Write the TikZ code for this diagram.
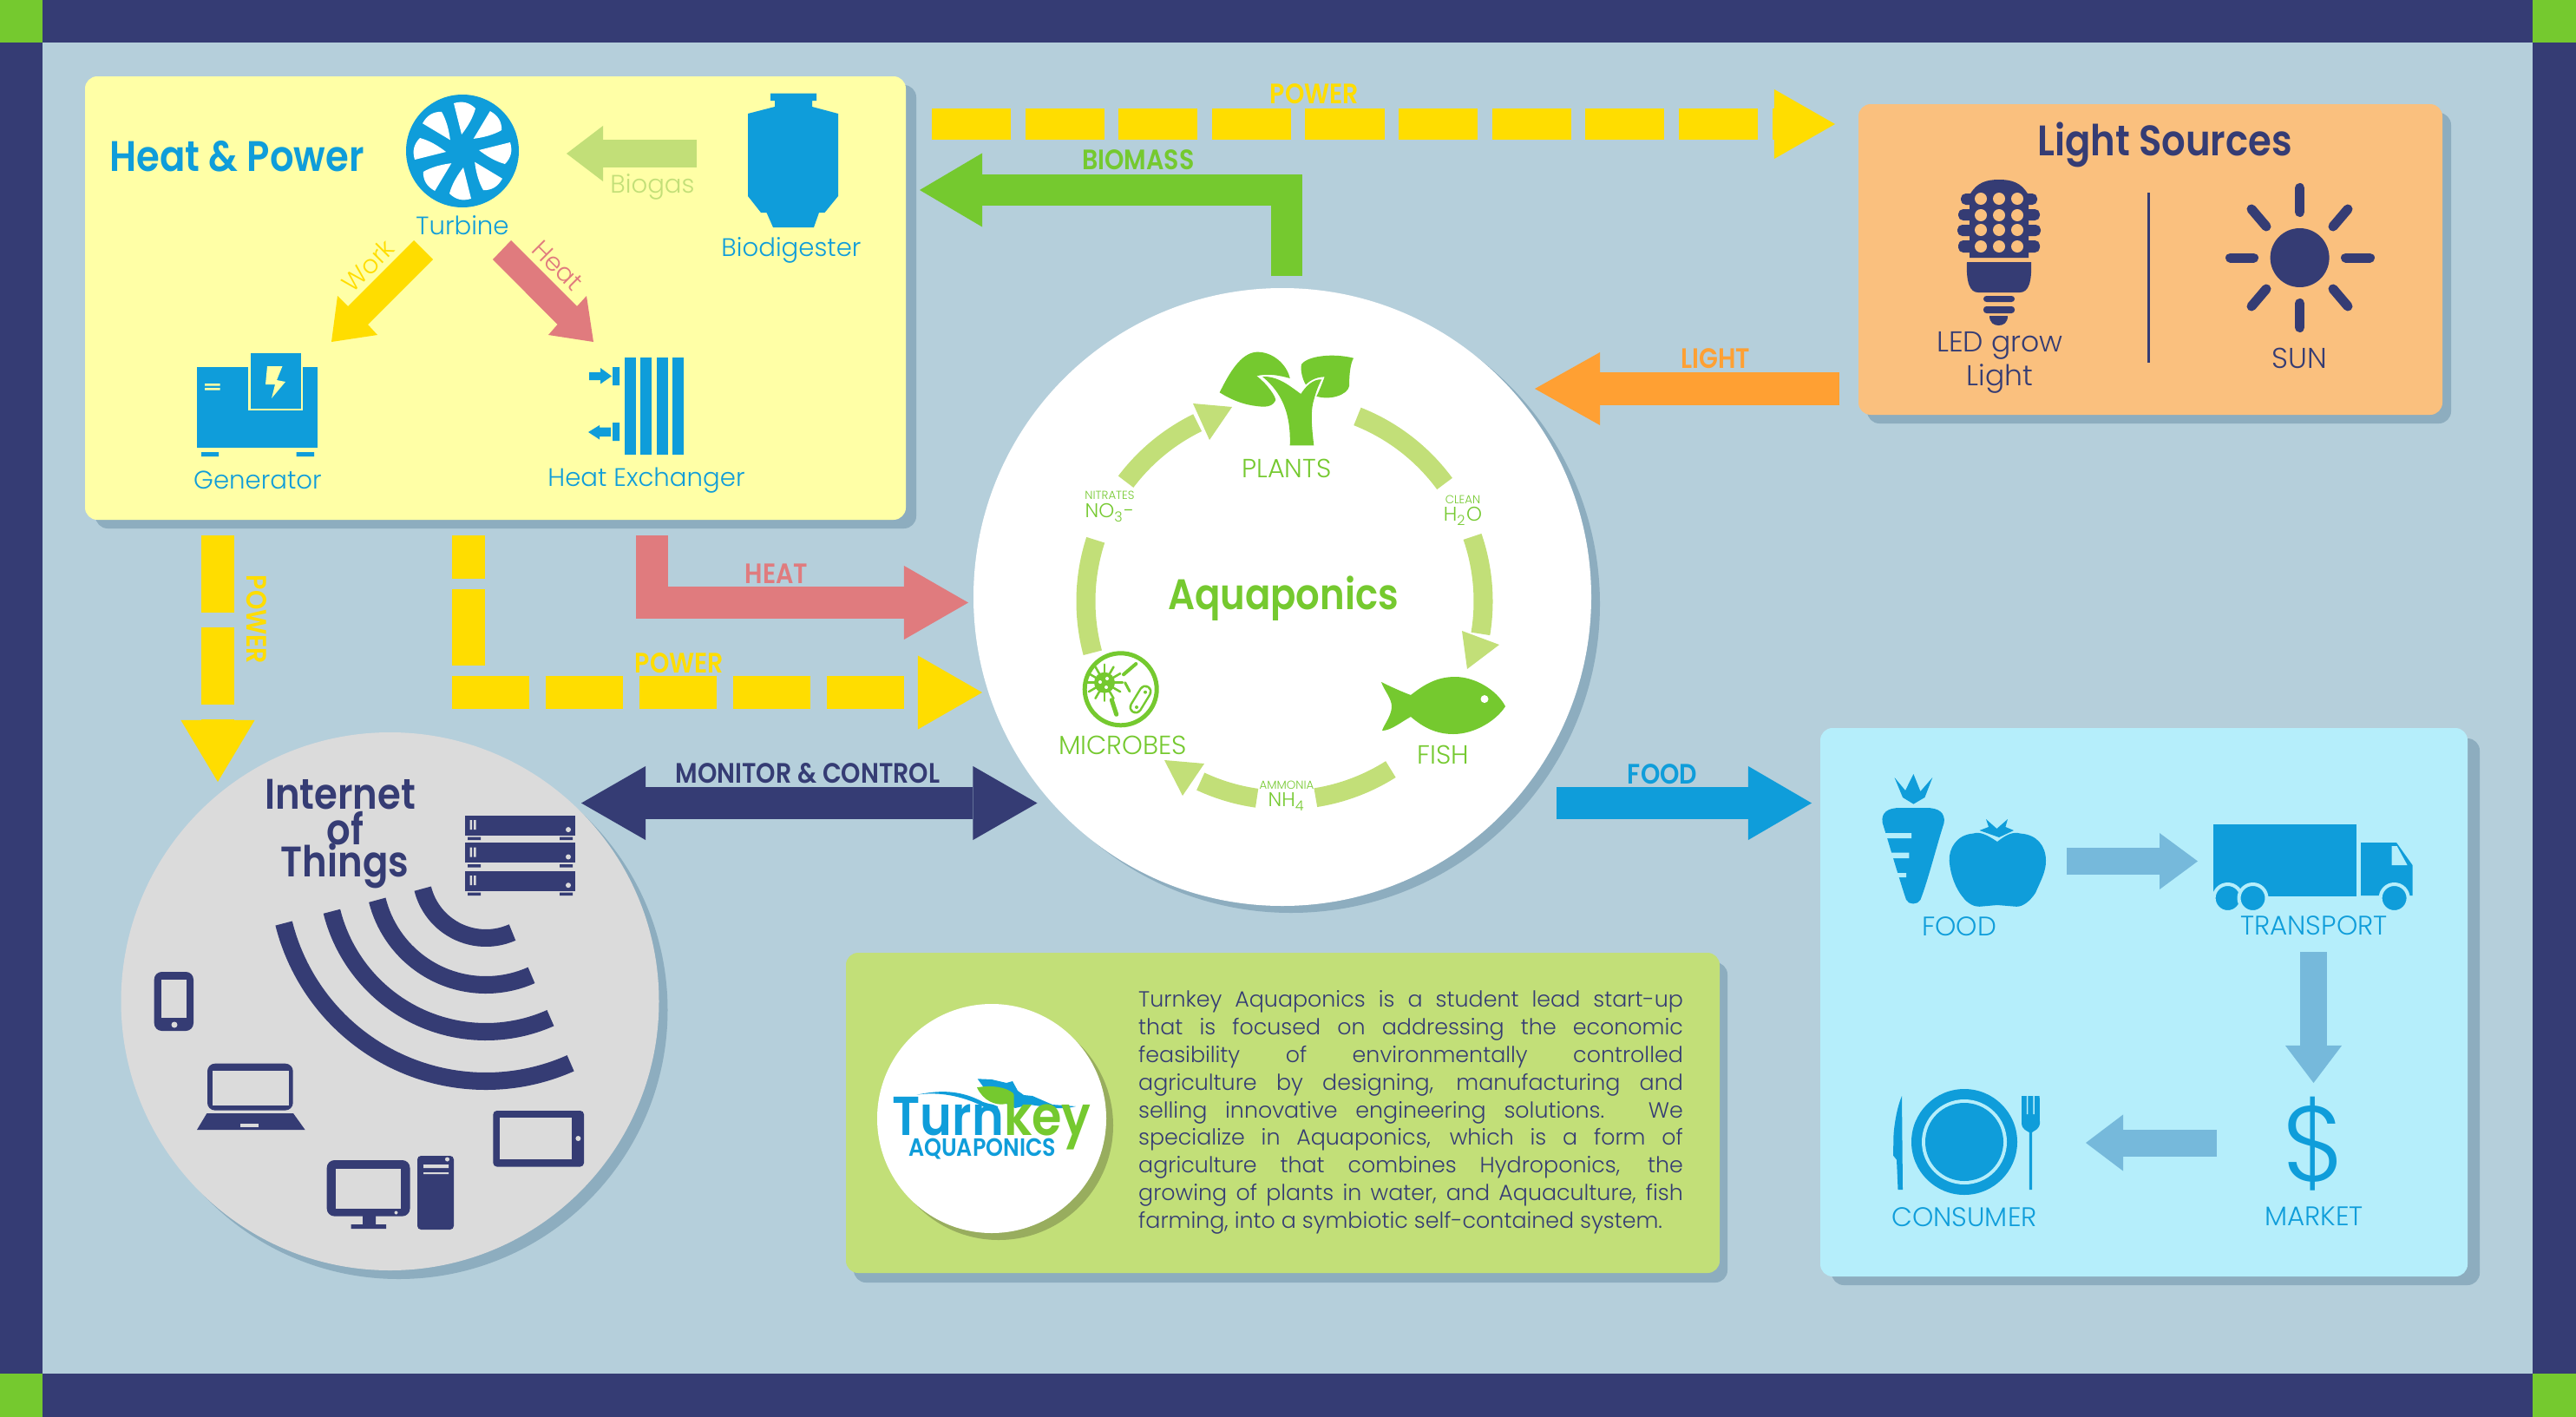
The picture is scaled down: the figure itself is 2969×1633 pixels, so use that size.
\documentclass[tikz,border=0pt]{standalone}
\usepackage{fontspec}
\setmainfont{Poppins}[UprightFont=* Light,BoldFont=* SemiBold,BoldFeatures={FakeStretch=.88}]
\usetikzlibrary{arrows.meta,calc}
\definecolor{navy}{HTML}{353C74}
\definecolor{backblue}{HTML}{B5CFDB}
\definecolor{shadowblue}{HTML}{8DADBF}
\definecolor{leafgreen}{HTML}{75C92F}
\definecolor{palegreen}{HTML}{C2DF78}
\definecolor{sunyellow}{HTML}{FFDD00}
\definecolor{heatred}{HTML}{E07B7E}
\definecolor{lightorange}{HTML}{FFA033}
\definecolor{foodblue}{HTML}{0F9DDA}
\definecolor{softblue}{HTML}{76B9DB}
\definecolor{heatpanel}{HTML}{FFFFA6}
\definecolor{lightpanel}{HTML}{FAC07E}
\definecolor{foodpanel}{HTML}{B5EEFB}
\definecolor{logoshadow}{HTML}{98AD5E}
\def\pxu{0.2845pt}
\tikzset{
    blockarrow/.style n args={3}{
        line width=#1*\pxu,
        -{Triangle[length=#2*\pxu,width=#3*\pxu,line width=0pt]}
    },
    panel/.style={rounded corners=4pt},
    bigtitle/.style={font=\fontsize{14}{15}\selectfont\bfseries},
    iconlabel/.style={font=\fontsize{8.3}{9}\selectfont,inner sep=0pt},
    lightlabel/.style={font=\fontsize{9.4}{10}\selectfont,navy,inner sep=0pt},
    foodlabel/.style={font=\fontsize{8.8}{9}\selectfont,foodblue,inner sep=0pt},
    cyclelabel/.style={font=\fontsize{8.6}{9}\selectfont,leafgreen,inner sep=0pt},
    tinylabel/.style={font=\fontsize{3.8}{4.5}\selectfont,leafgreen,inner sep=0pt},
    chemlabel/.style={font=\fontsize{6.5}{7}\selectfont,leafgreen,inner sep=0pt},
    arrowlabel/.style={font=\fontsize{9.2}{10}\selectfont\bfseries,inner sep=0pt}
}
\begin{document}
\begin{tikzpicture}[x=0.01cm,y=0.01cm,yscale=-1]
    \useasboundingbox (0,0) rectangle (2969,1633);
    % frame
    \fill[leafgreen] (0,0) rectangle (2969,1633);
    \fill[navy] (49,0) rectangle (2919,49);
    \fill[navy] (49,1583) rectangle (2919,1633);
    \fill[navy] (0,49) rectangle (49,1583);
    \fill[navy] (2919,49) rectangle (2969,1583);
    \fill[backblue] (49,49) rectangle (2919,1583);

    % panels
    \fill[panel,shadowblue] (110,98) rectangle (1056,609);
    \fill[panel,heatpanel] (98,88) rectangle (1044,599);
    \fill[panel,shadowblue] (2152,130) rectangle (2825,488);
    \fill[panel,lightpanel] (2142,120) rectangle (2815,478);
    \fill[panel,shadowblue] (2111,851) rectangle (2858,1481);
    \fill[panel,foodpanel] (2098,839) rectangle (2844,1471);
    \fill[panel,shadowblue] (984,1109) rectangle (1991,1478);
    \fill[panel,palegreen] (975,1098) rectangle (1982,1467);
    \fill[shadowblue] (1488,696) circle[radius=356];
    \fill[white] (1478,688) circle[radius=356];
    \fill[shadowblue] (459.5,1164) circle[radius=310];
    \fill[black!14] (449.5,1154) circle[radius=310];

    % power and material flows
    \coordinate (Pw1) at (1074,143);
    \coordinate (Pw2) at (2115,143);
    \coordinate (Bm1) at (1483,318);
    \coordinate (Bm2) at (1483,219);
    \coordinate (Bm3) at (1060,219);
    \coordinate (Lt1) at (2120,448);
    \coordinate (Lt2) at (1769,448);
    \coordinate (Pw3) at (251,617);
    \coordinate (Pw4) at (251,901);
    \coordinate (Pw5) at (540,617);
    \coordinate (Pw6) at (540,767);
    \coordinate (Pw7) at (521,798);
    \coordinate (Pw8) at (1132,798);
    \coordinate (Ht1) at (751.5,617);
    \coordinate (Ht2) at (751.5,694.5);
    \coordinate (Ht3) at (1116,694.5);
    \coordinate (Mc1) at (670,925.5);
    \coordinate (Mc2) at (1195.5,925.5);
    \coordinate (Fd1) at (1794,925.5);
    \coordinate (Fd2) at (2088,925.5);
    \draw[blockarrow={36}{70}{80},sunyellow,dash pattern=on 25.9pt off 4.7pt] (Pw1) -- (Pw2);
    \draw[blockarrow={36}{72}{85},leafgreen] (Bm1) -- (Bm2) -- (Bm3);
    \draw[blockarrow={37}{75}{84},lightorange] (Lt1) -- (Lt2);
    \draw[blockarrow={37.5}{71}{85},sunyellow,dash pattern=on 25.3pt off 4.84pt] (Pw3) -- (Pw4);
    \draw[line width=37.5*\pxu,sunyellow,dash pattern=on 14.2pt off 3.4pt on 25pt off 60pt] (Pw5) -- (Pw6);
    \draw[blockarrow={37.5}{74}{85},sunyellow,dash pattern=on 25.3pt off 5.4pt] (Pw7) -- (Pw8);
    \draw[blockarrow={37.5}{74}{85},heatred] (Ht1) -- (Ht2) -- (Ht3);
    \draw[line width=37.5*\pxu,navy,{Triangle[length=74*\pxu,width=85*\pxu,line width=0pt]}-{Triangle[length=74*\pxu,width=85*\pxu,line width=0pt]}] (Mc1) -- (Mc2);
    \draw[blockarrow={37.5}{73}{85},foodblue] (Fd1) -- (Fd2);
    \node[arrowlabel,sunyellow] (pwlabela) at (1515,108) {POWER};
    \node[arrowlabel,leafgreen] (bmlabel) at (1312,184) {BIOMASS};
    \node[arrowlabel,lightorange] (ltlabel) at (1977,413) {LIGHT};
    \node[arrowlabel,sunyellow,rotate=-90] (pwlabelb) at (296,714) {POWER};
    \node[arrowlabel,sunyellow] (pwlabelc) at (783,764) {POWER};
    \node[arrowlabel,heatred] (htlabel) at (895,661) {HEAT};
    \node[arrowlabel,navy] (mclabel) at (931,891) {MONITOR \& CONTROL};
    \node[arrowlabel,foodblue] (fdlabel) at (1916,892) {FOOD};

    % heat and power panel
    \node[bigtitle,foodblue,inner sep=0pt] (hptitle) at (273,180) {Heat \& Power};
    \fill[foodblue] (533,174) circle[radius=65];
    \foreach \a in {0,45,...,315}{
        \begin{scope}[shift={(533,174)},rotate=\a]
            \fill[white] (-1,-19) -- (-10,-55) .. controls (0,-58) and (8,-56) .. (15,-49)
                .. controls (12,-38) and (6,-28) .. cycle;
        \end{scope}
    }
    \fill[foodblue] (533,174) circle[radius=12.5];
    \node[iconlabel,foodblue] (turbine) at (533,260) {Turbine};
    \fill[foodblue] (888,107.5) -- (941,107.5) -- (941,116) -- (936,116) -- (936,123) -- (966,131)
        -- (966,226) -- (950.5,245) -- (944,245) -- (938,262) -- (891,262) -- (883.5,245) -- (877,245)
        -- (862,226) -- (862,131) -- (893,123) -- (893,116) -- (888,116) -- cycle;
    \node[iconlabel,foodblue] (biodigester) at (912,288) {Biodigester};
    \coordinate (Bg1) at (803,177);
    \coordinate (Bg2) at (653,177);
    \draw[blockarrow={32}{42}{64},palegreen] (Bg1) -- (Bg2);
    \node[iconlabel,palegreen] (biogas) at (752,215) {Biogas};
    \fill[sunyellow] (477,277) -- (499,299) -- (424,374) -- (435,386) -- (382,394) -- (389,341) -- (401,353) -- cycle;
    \fill[heatred] (589,277) -- (568,299) -- (642.5,374) -- (632,386) -- (684,394) -- (676,341) -- (665,353) -- cycle;
    \node[iconlabel,sunyellow,rotate=45] (work) at (424,306) {Work};
    \node[iconlabel,heatred,rotate=-45] (heat) at (643,306) {Heat};
    % generator
    \fill[foodblue] (227,423) rectangle (366,516);
    \fill[heatpanel] (286,407) rectangle (349,473);
    \fill[foodblue] (288.5,407) rectangle (346.6,471);
    \fill[heatpanel] (308,422) -- (325.5,422) -- (319,438) -- (329,440) -- (313,459) -- (317,443) -- (306,443) -- cycle;
    \fill[heatpanel] (236,442) rectangle (253.5,444.5) (236,447) rectangle (253.5,449.5);
    \fill[foodblue] (232,521) rectangle (252,526) (341.5,521) rectangle (362,526);
    \node[iconlabel,foodblue] (generator) at (297,553) {Generator};
    % heat exchanger
    \foreach \bx in {720,738,757,775}{
        \fill[foodblue] (\bx,412) rectangle ++(13,111.5);
    }
    \fill[foodblue] (706,423) rectangle (714,444) (706,487) rectangle (714,508);
    \fill[foodblue] (679,429) -- (692,429) -- (692,424) -- (705,433.5) -- (692,442.5) -- (692,438) -- (679,438) -- cycle;
    \fill[foodblue] (704,492.5) -- (691,492.5) -- (691,490) -- (678,498) -- (691,506.5) -- (691,503) -- (704,503) -- cycle;
    \node[iconlabel,foodblue] (exchanger) at (745,554) {Heat Exchanger};

    % light sources panel
    \node[bigtitle,navy,inner sep=0pt] (lstitle) at (2495,167) {Light Sources};
    \draw[navy,line width=3*\pxu] (2476,222) -- (2476,418);
    \fill[navy] (2270,297) -- (2270,225) .. controls (2278,210) and (2290,207) .. (2304,207)
        .. controls (2318,207) and (2330,210) .. (2338,225) -- (2338,297) -- cycle;
    \fill[navy,rounded corners=1.6pt] (2260,223) rectangle (2348,236) (2257,241) rectangle (2351,254)
        (2256,259) rectangle (2352,272) (2257,277) rectangle (2351,291);
    \foreach \ledy in {229,248,265,284}{
        \foreach \ledx in {2283,2304,2325}{
            \fill[lightpanel] (\ledx,\ledy) circle[radius=7];
        }
    }
    \fill[navy] (2267,302) -- (2341,302) .. controls (2342,325) and (2338,337) .. (2328,337)
        -- (2280,337) .. controls (2270,337) and (2266,325) .. cycle;
    \fill[navy,rounded corners=1pt] (2286,341) rectangle (2322,348) (2286,353) rectangle (2322,361);
    \fill[navy] (2293,364) -- (2314,364) .. controls (2314,372) and (2309,375) .. (2303.5,375)
        .. controls (2298,375) and (2293,372) .. cycle;
    \fill[navy] (2650.6,297) circle[radius=34];
    \foreach \rx/\ry/\sx/\sy in {2570.5/297/2597.5/297,2703.5/297/2731.5/297,2650.6/216.5/2650.6/244.5,2650.6/349.5/2650.6/377.5,2595/241/2612/261,2706/241/2689/261,2595/353/2612/333,2706/353/2689/333}{
        \draw[navy,line width=11*\pxu,line cap=round] (\rx,\ry) -- (\sx,\sy);
    }
    \node[lightlabel] (ledlabel) at (2305,398) {LED grow};
    \node[lightlabel] (ledlabelb) at (2305,436) {Light};
    \node[lightlabel] (sunlabel) at (2650,413) {SUN};

    % aquaponics cycle
    \foreach \sa/\ea in {-68.5/-36.3,-19/9.4,57.7/81,98/115,165/198,217/244}{
        \draw[palegreen,line width=22*\pxu] ($(1480.5,693)+(\sa:229)$) arc[start angle=\sa,end angle=\ea,radius=229];
    }
    \fill[palegreen] (1685,727) -- (1728,743) -- (1691,771) -- cycle;
    \fill[palegreen] (1388,880) -- (1342,876) -- (1363,917) -- cycle;
    \fill[palegreen] (1375,465) -- (1420,469) -- (1394,507) -- cycle;
    \node[bigtitle,leafgreen,inner sep=0pt] (aquatitle) at (1479,690) {Aquaponics};
    \node[cyclelabel] (plants) at (1483,540) {PLANTS};
    \node[cyclelabel] (fish) at (1663,870) {FISH};
    \node[cyclelabel] (microbes) at (1294,859) {MICROBES};
    \node[tinylabel] (clean) at (1686,576) {CLEAN};
    \node[chemlabel] (water) at (1686,595) {H\textsubscript{2}O};
    \node[tinylabel] (nitrates) at (1279,571) {NITRATES};
    \node[chemlabel] (nitrate) at (1279,591) {NO\textsubscript{3}-};
    \node[tinylabel] (ammonia) at (1483,905) {AMMONIA};
    \node[chemlabel] (ammonium) at (1483,924) {NH\textsubscript{4}};
    % plant
    \fill[leafgreen] (1486.7,513.3) -- (1514.3,513.3) .. controls (1511.7,490) and (1510,473.3) .. (1515,458.3)
        .. controls (1518.3,446.7) and (1521.7,440) .. (1523.3,437.3) .. controls (1513.3,436.7) and (1505,445) .. (1499.3,454)
        .. controls (1486.7,445) and (1473.3,433.3) .. (1455,434) .. controls (1470,446.7) and (1488.3,466.7) .. cycle;
    \fill[leafgreen] (1405.7,452.3) .. controls (1416.7,430) and (1430,406.7) .. (1448.3,405.7)
        .. controls (1466.7,405) and (1483.3,420) .. (1486.7,436) .. controls (1475,432.7) and (1461.7,430) .. (1448.3,433.3)
        .. controls (1460,441.7) and (1471.7,458.3) .. (1470,461.7) .. controls (1465,471.7) and (1451.7,468.3) .. (1443.3,467.3)
        .. controls (1430,465) and (1418,460) .. cycle;
    \fill[leafgreen] (1560,412.7) .. controls (1536.7,406.7) and (1506.7,410) .. (1500,420)
        .. controls (1498.3,426.7) and (1501.7,438.3) .. (1505,443.3) .. controls (1511.7,436.7) and (1520,434.3) .. (1526.7,434.3)
        .. controls (1523.3,443.3) and (1520,451.7) .. (1517.3,456.7) .. controls (1533.3,461.7) and (1553.3,455) .. (1555,445)
        .. controls (1555,430) and (1556.7,418.3) .. cycle;
    % fish
    \fill[leafgreen] (1735,814) .. controls (1725,795) and (1700,780) .. (1677,780) .. controls (1655,780) and (1640,790) .. (1626,801)
        .. controls (1615,797) and (1600,790) .. (1592,786) .. controls (1595,795) and (1604,805) .. (1604,814)
        .. controls (1604,825) and (1595,835) .. (1593,842) .. controls (1603,842) and (1615,832) .. (1626,826)
        .. controls (1640,838) and (1655,846) .. (1675,846) .. controls (1700,846) and (1725,830) .. cycle;
    \fill[white] (1711,805.6) circle[radius=4.5];
    % microbes
    \draw[leafgreen,fill=white,line width=5*\pxu] (1291.7,794.3) circle[radius=41.5];
    \fill[leafgreen] (1273,786.7) circle[radius=12];
    \foreach \a in {0,30,...,330}{
        \draw[leafgreen,line width=2.5*\pxu,line cap=round] (1273,786.7) -- ++(\a:21);
    }
    \fill[white] (1268,786) circle[radius=2] (1276,782) circle[radius=2] (1275,792) circle[radius=2];
    \draw[leafgreen,line width=4*\pxu,line cap=round] (1295,777.3) -- (1309.3,765);
    \draw[leafgreen,line width=3*\pxu,line cap=round] (1296.7,786.7) -- (1302,796.7);
    \draw[leafgreen,line width=5*\pxu,line cap=round] (1281.3,806.7) -- (1286.7,823.3);
    \draw[leafgreen,line width=15*\pxu,line cap=round] (1320,797) -- (1309,815);
    \draw[white,line width=10*\pxu,line cap=round] (1320,797) -- (1309,815);
    \fill[leafgreen] (1320,797.7) circle[radius=2] (1310,815) circle[radius=2];

    % internet of things
    \node[bigtitle,navy,inner sep=0pt] (iota) at (392,916) {Internet};
    \node[bigtitle,navy,inner sep=0pt] (iotb) at (398,955) {of};
    \node[bigtitle,navy,inner sep=0pt] (iotc) at (397.5,998) {Things};
    \foreach \r in {75,129,183,240}{
        \draw[navy,line width=20*\pxu] ($(560,1006)+(66:\r)$) arc[start angle=66,end angle=166,radius=\r];
    }
    \foreach \sy in {939.6,971,1003.7}{
        \fill[navy] (535.5,\sy) rectangle ++(127.5,23);
        \fill[navy] (539,\sy+25) rectangle ++(15,3.5) (645,\sy+25) rectangle ++(15,3.5);
        \fill[black!14] (541.5,\sy+5.5) rectangle ++(2.5,11) (546,\sy+5.5) rectangle ++(2.5,11);
        \fill[black!14] (655,\sy+16.5) circle[radius=3];
    }
    % phone
    \fill[navy,rounded corners=2.5pt] (177.7,1120) rectangle (223,1188);
    \fill[black!14] (186,1128.6) rectangle (215,1172.6);
    \fill[black!14] (201,1181) circle[radius=3.5];
    % laptop
    \fill[navy,rounded corners=2.5pt] (239,1225.7) -- (337.7,1225.7) -- (337.7,1279.6) -- (239,1279.6) -- cycle;
    \fill[black!14] (245,1234) rectangle (332.5,1274);
    \fill[navy] (238.4,1283) -- (338,1283) -- (351.6,1302) -- (227,1302) -- cycle;
    \fill[black!14] (277,1295) rectangle (298,1299);
    % tablet
    \fill[navy,rounded corners=1.2pt] (568.4,1280) rectangle (673,1344.5);
    \fill[black!14] (576,1288) rectangle (659,1336);
    \fill[black!14] (666.4,1312) circle[radius=3];
    % desktop
    \fill[navy,rounded corners=2.5pt] (376.7,1337) rectangle (472.5,1401.6);
    \fill[black!14] (386.7,1347) rectangle (461.7,1393);
    \fill[black!14] (456.5,1397.5) circle[radius=2];
    \fill[navy] (418,1401) rectangle (433,1411) (404.5,1411) rectangle (445,1416);
    \fill[navy,rounded corners=1.2pt] (481,1332) rectangle (523,1417);
    \fill[black!14] (515.5,1336) circle[radius=2.5];
    \fill[black!14] (488,1342) rectangle (517,1346) (488,1351) rectangle (517,1353);

    % food panel
    \fill[foodblue] (2183.5,896) -- (2196,911) -- (2205.4,892) -- (2213.4,912) -- (2227.3,896) -- (2218.4,919) -- (2205.4,926.6) -- (2193,919) -- cycle;
    \fill[foodblue] (2169.6,948) .. controls (2168,936) and (2176,931) .. (2190,931) -- (2220,931)
        .. controls (2234,931) and (2242,936) .. (2240.7,948) .. controls (2232,975) and (2222,1015) .. (2213.4,1037)
        .. controls (2210,1043) and (2200,1043) .. (2197,1037) .. controls (2188,1010) and (2178,975) .. cycle;
    \fill[foodpanel] (2172,960) rectangle (2203,966) (2179.5,982.6) rectangle (2200.4,989) (2184.5,1006) rectangle (2197,1011);
    \fill[foodblue] (2302,970) .. controls (2290,962) and (2282,958) .. (2274,960.6) .. controls (2255,962) and (2246,978) .. (2246.7,992)
        .. controls (2248,1010) and (2255,1025) .. (2261.6,1033) .. controls (2268,1042) and (2276,1045) .. (2281.5,1044.8)
        -- (2302,1043) -- (2324,1044.8) .. controls (2332,1045) and (2340,1038) .. (2346,1029)
        .. controls (2352,1015) and (2358,1005) .. (2358,992) .. controls (2358,975) and (2348,962) .. (2329,960.6)
        .. controls (2320,958) and (2312,962) .. cycle;
    \fill[foodblue] (2289,944) -- (2301.4,955) -- (2314,944) -- (2311.4,953) -- (2321,957) -- (2304,965) -- (2281.5,957) -- (2292,953) -- cycle;
    \node[foodlabel] (foodname) at (2258,1067.6) {FOOD};
    \coordinate (Sp1) at (2382,992.5);
    \coordinate (Sp2) at (2533,992.5);
    \coordinate (Sp3) at (2666.5,1097);
    \coordinate (Sp4) at (2666.5,1248);
    \coordinate (Sp5) at (2555,1317);
    \coordinate (Sp6) at (2404,1317);
    \draw[blockarrow={31}{44}{65},softblue] (Sp1) -- (Sp2);
    \draw[blockarrow={31}{43}{65},softblue] (Sp3) -- (Sp4);
    \draw[blockarrow={31}{43}{65},softblue] (Sp5) -- (Sp6);
    % truck
    \fill[foodblue] (2551,950) rectangle (2716,1033);
    \fill[foodblue] (2721,971) -- (2762,971) -- (2780.5,997) -- (2780.5,1032) -- (2721,1032) -- cycle;
    \fill[foodpanel] (2756.7,975) -- (2762.6,975) -- (2774.6,997) -- (2756.7,997) -- cycle;
    \foreach \wx in {2567.6,2596.5,2759.6}{
        \draw[foodblue,fill=foodblue,draw=foodpanel,line width=4*\pxu] (\wx,1035) circle[radius=16];
    }
    \node[foodlabel] (transport) at (2667,1067) {TRANSPORT};
    % dinner plate
    \fill[foodblue] (2264,1316) circle[radius=61];
    \fill[foodpanel] (2264,1316) circle[radius=49];
    \fill[foodblue] (2264,1316) circle[radius=45];
    \fill[foodblue] (2192,1263) -- (2193,1371) -- (2187.5,1371) -- (2186,1336.6) -- (2182,1331.6) -- (2182.5,1307) .. controls (2184,1290) and (2187,1275) .. cycle;
    \fill[foodblue] (2330,1263) -- (2350.7,1263) -- (2351,1295) .. controls (2350,1302) and (2344,1303) .. (2342,1305)
        -- (2342,1371) -- (2338.8,1371) -- (2338.8,1305) .. controls (2336,1303) and (2331,1302) .. (2330,1295) -- cycle;
    \fill[foodpanel] (2335.8,1263) rectangle (2337.3,1284) (2343.3,1263) rectangle (2344.8,1284);
    \node[foodlabel] (consumer) at (2264,1403) {CONSUMER};
    \node[font=\fontsize{35}{36}\selectfont,foodblue,inner sep=0pt] (dollar) at (2667,1318) {\$};
    \node[foodlabel] (market) at (2667,1402) {MARKET};

    % turnkey panel
    \fill[logoshadow] (1151,1297) circle[radius=132];
    \fill[white] (1143,1289) circle[radius=132];
    \fill[foodblue] (1126.7,1243.3) -- (1143,1244) -- (1160,1248) -- (1167,1246) -- (1173,1257) -- (1180,1262) -- (1190,1263)
        -- (1213,1273) -- (1240,1275) -- (1230,1277) -- (1213,1277) -- (1187,1273) -- (1170,1277) -- (1140,1262) -- cycle;
    \fill[foodblue] (1056.7,1261.7) .. controls (1083,1256) and (1107,1256) .. (1133,1270) -- (1150,1275) -- (1150,1278) -- (1133,1275)
        .. controls (1107,1262) and (1080,1258) .. cycle;
    \fill[leafgreen] (1126,1253.3) .. controls (1143,1250) and (1160,1253) .. (1168,1260) .. controls (1168,1265) and (1165,1269) .. (1160,1272)
        .. controls (1147,1275) and (1133,1268) .. cycle;
    \node[font=\fontsize{18}{19}\selectfont\bfseries,foodblue,inner sep=0pt,anchor=base west] (turnlogo) at (1028,1308) {Turn\textcolor{leafgreen}{key}};
    \node[font=\fontsize{8.2}{9}\selectfont\bfseries,foodblue,inner sep=0pt] (aquaplogo) at (1132,1324) {AQUAPONICS};
    \node[font=\fontsize{7.2}{9.05}\selectfont,navy,inner sep=0pt,anchor=north west,text width=178.5pt,align=justify] (about) at (1311.5,1141) {
        Turnkey Aquaponics is a student lead start-up\linebreak
        that is focused on addressing the economic\linebreak
        feasibility of environmentally controlled\linebreak
        agriculture by designing, manufacturing and\linebreak
        selling innovative engineering solutions. We\linebreak
        specialize in Aquaponics, which is a form of\linebreak
        agriculture that combines Hydroponics, the\linebreak
        growing of plants in water, and Aquaculture, fish\linebreak
        farming, into a symbiotic self-contained system.};
\end{tikzpicture}
\end{document}
